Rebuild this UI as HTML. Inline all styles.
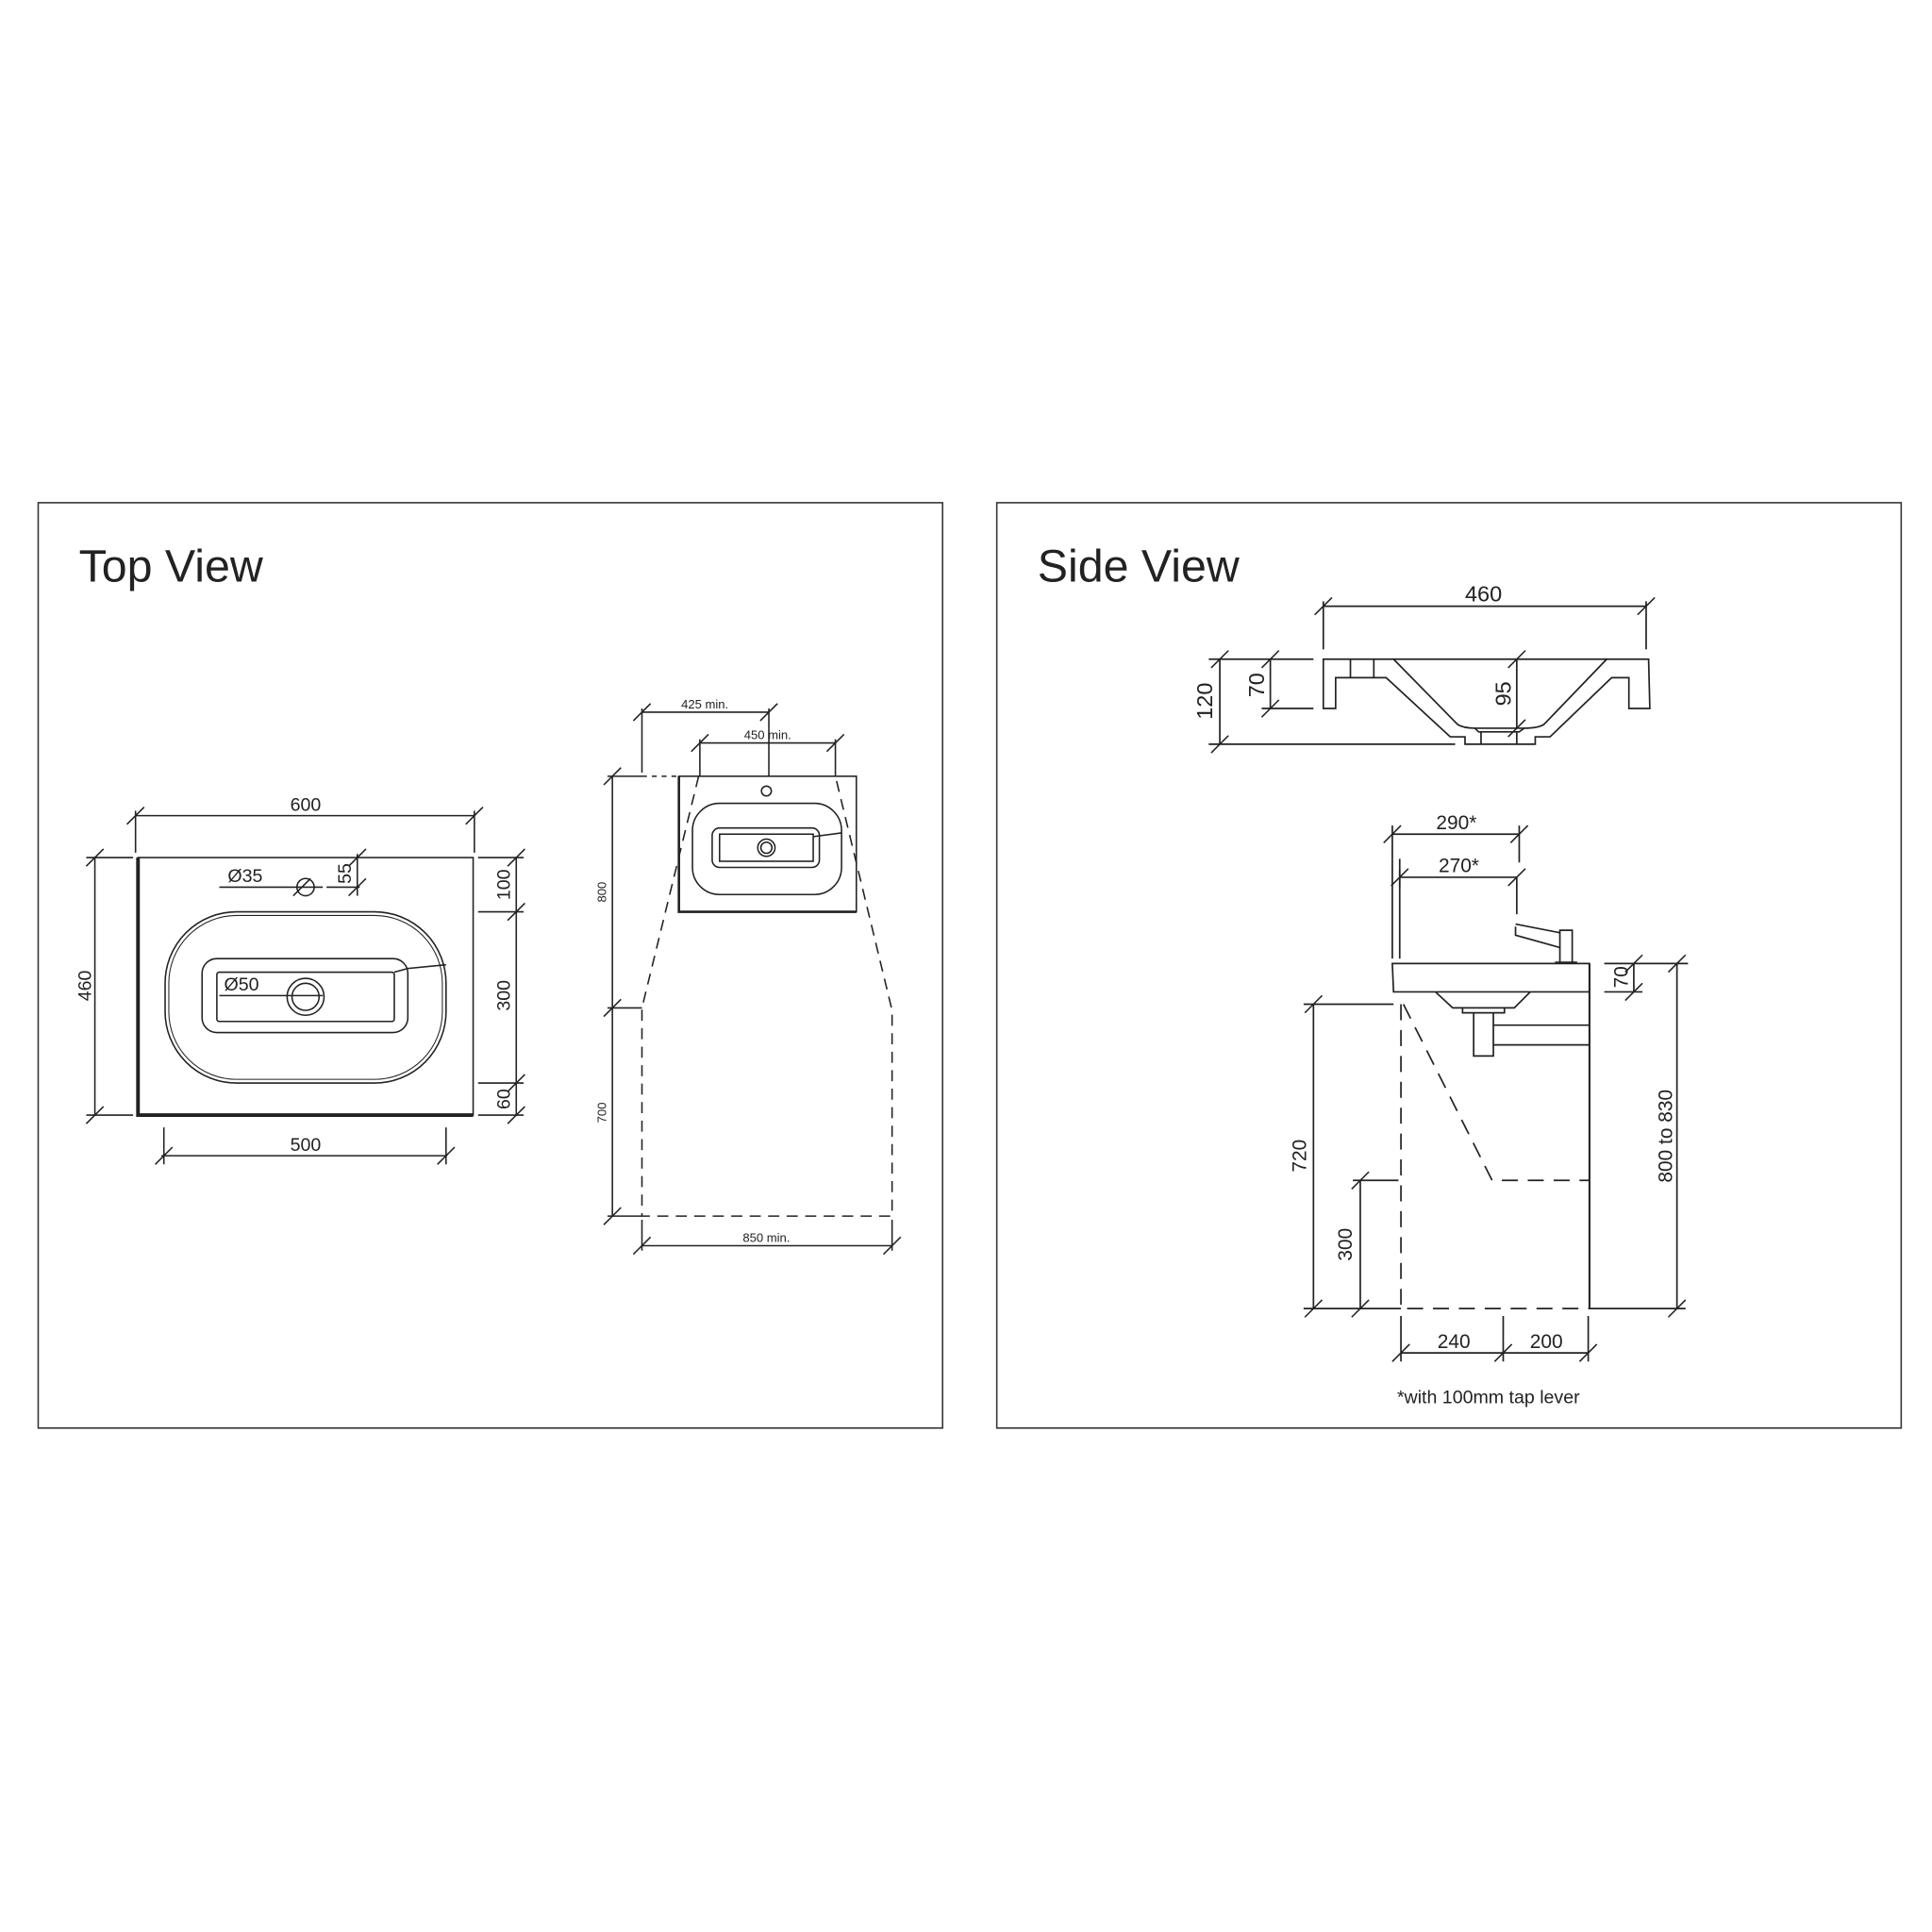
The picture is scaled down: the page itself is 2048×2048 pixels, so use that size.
<!DOCTYPE html>
<html><head><meta charset="utf-8"><style>
html,body{margin:0;padding:0;background:#fff;}
svg{display:block;}
text{font-family:"Liberation Sans",sans-serif;fill:#222;}
</style></head><body>
<svg width="2048" height="2048" viewBox="0 0 1568 1568" xmlns="http://www.w3.org/2000/svg">
<defs><path id="t" d="M-7,7 L7,-7" stroke="#222" stroke-width="1.2"/></defs>
<rect width="1568" height="1568" fill="#fff"/>
<g fill="none" stroke="#333" stroke-width="1.2">
<rect x="31" y="408" width="734" height="751"/>
<rect x="809" y="408" width="734" height="751"/>
</g>
<text x="64" y="472" font-size="37" style="fill:#222">Top View</text>
<text x="842" y="472" font-size="37" style="fill:#222">Side View</text>

<!-- TOP VIEW SINK -->
<g fill="none" stroke="#222" stroke-width="1.2">
<rect x="112" y="696" width="272" height="209"/>
<path d="M112,696 V905 H384" stroke-width="3"/>
<rect x="134" y="740" width="228" height="139" rx="58"/>
<rect x="137" y="743" width="222" height="133" rx="55" stroke-width="0.8"/>
<rect x="164" y="778" width="167" height="60" rx="12"/>
<rect x="176" y="789" width="144" height="40" rx="2"/>
<path d="M320,789 L331,786 L362,783"/>
<circle cx="248" cy="809" r="15"/>
<circle cx="248" cy="809" r="11"/>
<circle cx="248" cy="720" r="7"/>
<path d="M178,808 H262"/>
<path d="M178,720 H262 M265,720 H292"/>
<path d="M290,693 V727"/>
<path d="M110,662 H385 M110,658 V692 M385,658 V692"/>
<path d="M77,696 V905 M70,696 H108 M70,905 H108"/>
<path d="M419,696 V905 M388,696 H425 M388,740 H425 M388,879 H425 M388,905 H425"/>
<path d="M131,938 H363 M133,915 V945 M362,915 V945"/>
</g>
<g>
<use href="#t" x="110" y="662"/><use href="#t" x="385" y="662"/>
<use href="#t" x="77" y="696"/><use href="#t" x="77" y="905"/>
<use href="#t" x="419" y="696"/><use href="#t" x="419" y="740"/><use href="#t" x="419" y="879"/><use href="#t" x="419" y="905"/>
<use href="#t" x="133" y="938"/><use href="#t" x="362" y="938"/>
<use href="#t" x="290" y="696"/><use href="#t" x="290" y="720"/><use href="#t" x="245" y="720"/>
</g>
<g font-size="15" text-anchor="middle">
<text x="248" y="658">600</text>
<text x="248" y="934">500</text>
<text transform="translate(74,800) rotate(-90)">460</text>
<text transform="translate(414,718) rotate(-90)">100</text>
<text transform="translate(414,808) rotate(-90)">300</text>
<text transform="translate(414,892) rotate(-90)">60</text>
<text transform="translate(285,709) rotate(-90)">55</text>
<text x="199" y="716">Ø35</text>
<text x="196" y="804">Ø50</text>
</g>

<!-- SMALL PLAN -->
<g fill="none" stroke="#222" stroke-width="1.2">
<rect x="551" y="630" width="144" height="110"/>
<path d="M551,630 V740 H695" stroke-width="2"/>
<rect x="562" y="652" width="121" height="74" rx="22"/>
<rect x="578" y="672" width="87" height="32" rx="6"/>
<rect x="584" y="677" width="76" height="22"/>
<path d="M660,679 L683,676"/>
<circle cx="622" cy="688" r="7"/><circle cx="622" cy="688" r="4.5"/>
<circle cx="622" cy="642" r="4"/>
<path d="M567,630 L521,818 V987 H724 V820 L678,630" stroke-dasharray="9,6"/>
<path d="M521,630 H551" stroke-dasharray="4,4"/>
<path d="M497,630 V987 M493,630 H521 M493,818 H521 M493,987 H521"/>
<path d="M521,578 H624 M521,575 V627 M624,575 V630"/>
<path d="M568,603 H678 M568,600 V630 M678,600 V630"/>
<path d="M521,1011 H724 M521,990 V1015 M724,990 V1015"/>
</g>
<g>
<use href="#t" x="497" y="630"/><use href="#t" x="497" y="818"/><use href="#t" x="497" y="987"/>
<use href="#t" x="521" y="578"/><use href="#t" x="624" y="578"/>
<use href="#t" x="568" y="603"/><use href="#t" x="678" y="603"/>
<use href="#t" x="521" y="1011"/><use href="#t" x="724" y="1011"/>
</g>
<g font-size="10" text-anchor="middle">
<text x="572" y="575">425 min.</text>
<text x="623" y="600">450 min.</text>
<text x="622" y="1008">850 min.</text>
<text transform="translate(492,724) rotate(-90)">800</text>
<text transform="translate(492,903) rotate(-90)">700</text>
</g>

<!-- SIDE VIEW SECTION -->
<g fill="none" stroke="#222" stroke-width="1.3">
<path d="M1074,492 H1336 M1074,488 V527 M1336,488 V527"/>
<path d="M1074,535 H1338 L1339,575 H1322 V550 H1308 L1258,598 H1246 V604 H1189 V598 H1177 L1125,550 H1084 V575 H1074 Z"/>
<path d="M1096,535 V550 M1115,535 V550"/>
<path d="M1131,535 L1183,588 Q1188,591 1197,591 H1237 Q1248,591 1253,588 L1304,535"/>
<path d="M1197,591 L1200,594 H1233 L1237,591 M1202,594 V604 M1231,594 V604"/>
<path d="M990,535 V604 M1031,535 V575 M1231,535 V591"/>
<path d="M981,535 H1066 M1024,575 H1066 M981,604 H1181"/>
</g>
<g>
<use href="#t" x="990" y="535"/><use href="#t" x="990" y="604"/>
<use href="#t" x="1031" y="535"/><use href="#t" x="1031" y="575"/>
<use href="#t" x="1231" y="535"/><use href="#t" x="1231" y="591"/>
<use href="#t" x="1074" y="492"/><use href="#t" x="1336" y="492"/>
</g>
<g font-size="18" text-anchor="middle">
<text x="1204" y="488">460</text>
<text transform="translate(984,569) rotate(-90)">120</text>
<text transform="translate(1026,556) rotate(-90)">70</text>
<text transform="translate(1226,563) rotate(-90)">95</text>
</g>

<!-- SIDE VIEW INSTALL -->
<g fill="none" stroke="#222" stroke-width="1.3">
<path d="M1130,782 H1290 V805 H1131 Z"/>
<path d="M1290,782 V1062" stroke-width="1.6"/>
<path d="M1165,805 L1179,818 H1229 L1242,805"/>
<path d="M1187,818 V822 H1221 V818"/>
<path d="M1196,822 V857 H1212 V822"/>
<path d="M1212,832 H1290 M1212,848 H1290"/>
<path d="M1266,781 V755 H1276 V781 M1262,781 H1280"/>
<path d="M1230,750 L1266,757 M1230,752 V759 L1266,769"/>
<path d="M1231,712 V742"/>
<path d="M1130,697 V778 M1136,697 V778"/>
<path d="M1137,815 V1062 H1290 M1139,815 L1211,958 H1290" stroke-dasharray="13,8"/>
<path d="M1130,677 H1233 M1130,670 V697 M1233,670 V700"/>
<path d="M1136,712 H1231 M1136,706 V720"/>
<path d="M1326,782 V805 M1302,782 H1370 M1302,805 H1333"/>
<path d="M1361,782 V1062 M1290,1062 H1368"/>
<path d="M1066,815 V1062 M1058,815 H1131 M1058,1062 H1137"/>
<path d="M1104,958 V1062 M1098,958 H1135"/>
<path d="M1137,1098 H1289 M1137,1068 V1105 M1220,1068 V1105 M1289,1068 V1105"/>
</g>
<g>
<use href="#t" x="1130" y="677"/><use href="#t" x="1233" y="677"/>
<use href="#t" x="1136" y="712"/><use href="#t" x="1231" y="712"/>
<use href="#t" x="1326" y="782"/><use href="#t" x="1326" y="805"/>
<use href="#t" x="1361" y="782"/><use href="#t" x="1361" y="1062"/>
<use href="#t" x="1066" y="815"/><use href="#t" x="1066" y="1062"/>
<use href="#t" x="1104" y="958"/><use href="#t" x="1104" y="1062"/>
<use href="#t" x="1137" y="1098"/><use href="#t" x="1220" y="1098"/><use href="#t" x="1289" y="1098"/>
</g>
<g font-size="16" text-anchor="middle">
<text x="1182" y="673">290*</text>
<text x="1184" y="708">270*</text>
<text transform="translate(1321,793) rotate(-90)">70</text>
<text transform="translate(1357,922) rotate(-90)">800 to 830</text>
<text transform="translate(1060,938) rotate(-90)">720</text>
<text transform="translate(1097,1010) rotate(-90)">300</text>
<text x="1180" y="1094">240</text>
<text x="1255" y="1094">200</text>
<text x="1208" y="1139" font-size="15">*with 100mm tap lever</text>
</g>
</svg>
</body></html>
